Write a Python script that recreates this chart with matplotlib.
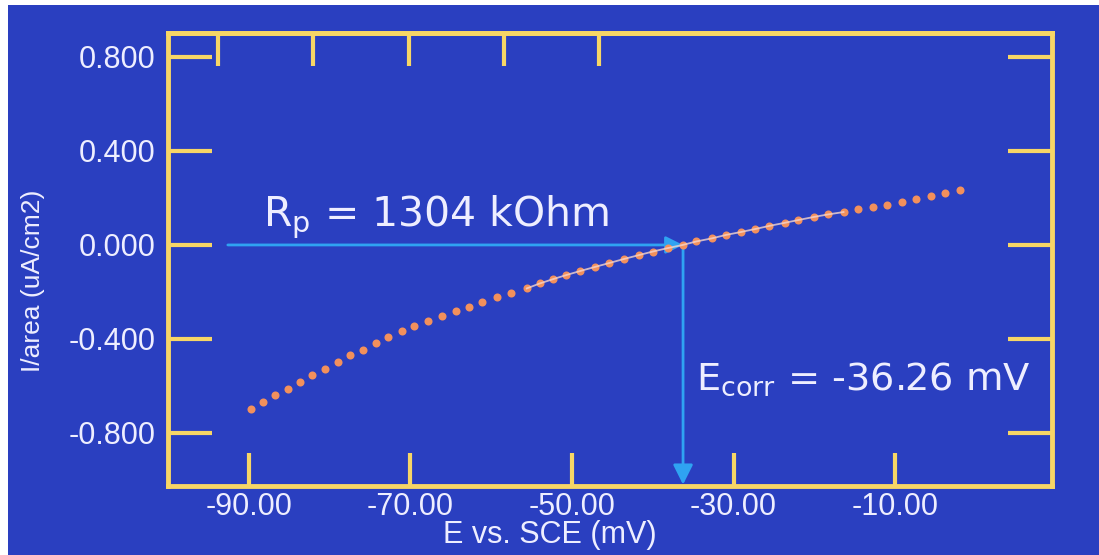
import numpy as np
import matplotlib
matplotlib.use("Agg")
import matplotlib.pyplot as plt
from matplotlib.patches import Rectangle

plt.rcParams["font.family"] = ["Liberation Sans", "DejaVu Sans"]
plt.rcParams["mathtext.fontset"] = "custom"
plt.rcParams["mathtext.rm"] = "Liberation Sans"

# -----------------------------
# data
# -----------------------------
e_mv = [-89.7, -88.3, -86.8, -85.2, -83.7, -82.2, -80.6, -79.0, -77.5, -75.9,
        -74.3, -72.8, -71.1, -69.6, -67.8, -66.1, -64.4, -62.8, -61.1, -59.3,
        -57.5, -55.6, -54.0, -52.3, -50.7, -49.0, -47.2, -45.4, -43.6, -41.7,
        -40.0, -38.1, -36.3, -34.6, -32.7, -30.9, -29.1, -27.3, -25.6, -23.7,
        -22.0, -20.1, -18.3, -16.4, -14.6, -12.8, -11.0, -9.2, -7.4, -5.6,
        -3.8, -2.0]
i_area = [-0.698, -0.668, -0.638, -0.611, -0.583, -0.553, -0.526, -0.498, -0.470, -0.445,
          -0.419, -0.391, -0.366, -0.345, -0.323, -0.304, -0.281, -0.262, -0.243, -0.223,
          -0.204, -0.185, -0.164, -0.145, -0.128, -0.111, -0.094, -0.077, -0.060, -0.043,
          -0.028, -0.013, 0.000, 0.015, 0.028, 0.043, 0.055, 0.068, 0.081, 0.094,
          0.106, 0.119, 0.130, 0.140, 0.151, 0.162, 0.172, 0.184, 0.196, 0.209,
          0.221, 0.234]

# linear fit region (indices into the data above)
fit_start, fit_end = 21, 44

e_corr = -36.26
rp_text = r"R$_\mathregular{p}$ = 1304 kOhm"
ecorr_text = r"E$_\mathregular{corr}$ = -36.26 mV"

x_ticks = [-90, -70, -50, -30, -10]
x_ticklabels = ["-90.00", "-70.00", "-50.00", "-30.00", "-10.00"]
y_ticks = [0.8, 0.4, 0.0, -0.4, -0.8]
y_ticklabels = ["0.800", "0.400", "0.000", "-0.400", "-0.800"]
top_ticks = [-93.8, -82.0, -70.2, -58.4, -46.6]

# -----------------------------
# colours
# -----------------------------
bg = "#2a3fc0"
frame = "#f7d666"
txt = "#eeeeff"
dots = "#f2905c"
arrow_c = "#2fa3f2"

fig = plt.figure(figsize=(10.99, 5.55), dpi=100)
fig.patch.set_facecolor(bg)
fig.add_artist(Rectangle((0, 0), 8 / 1099, 1, transform=fig.transFigure,
                         facecolor="white", edgecolor="none"))
fig.add_artist(Rectangle((0, 1 - 5 / 555), 1, 5 / 555, transform=fig.transFigure,
                         facecolor="white", edgecolor="none"))

ax = fig.add_axes([0.1529, 0.1243, 0.8043, 0.8162])
ax.set_facecolor(bg)
ax.set_xlim(-100, 9.4)
ax.set_ylim(-1.026, 0.902)

for sp in ax.spines.values():
    sp.set_color(frame)
    sp.set_linewidth(3.5)

ax.set_xticks(x_ticks)
ax.set_xticklabels(x_ticklabels)
ax.set_yticks(y_ticks)
ax.set_yticklabels(y_ticklabels)
ax.tick_params(axis="y", which="major", direction="in", length=32, width=3,
               color=frame, labelcolor=txt, labelsize=22, pad=9,
               left=True, right=True)
ax.tick_params(axis="x", which="major", direction="in", length=24, width=3,
               color=frame, labelcolor=txt, labelsize=22, pad=4,
               bottom=True, top=False)

top = ax.secondary_xaxis("top")
top.set_xticks(top_ticks)
top.tick_params(direction="in", length=24, width=3, color=frame, labeltop=False)
top.spines["top"].set_color(frame)
top.spines["top"].set_linewidth(3.5)

ax.set_xlabel("E vs. SCE (mV)", color=txt, fontsize=22, labelpad=2)
ax.xaxis.set_label_coords(0.432, -0.075)
ax.set_ylabel("I/area (uA/cm2)", color=txt, fontsize=19)
ax.yaxis.set_label_coords(-0.139, 0.4525)

# dotted curve + fit line
ax.plot(e_mv, i_area, linestyle="none", marker="o", markersize=5.8,
        color=dots, markeredgewidth=0, zorder=3)
ax.plot(e_mv[fit_start:fit_end], i_area[fit_start:fit_end], color="#f7d6cc",
        lw=1.3, alpha=0.8, zorder=4)

# arrows
ax.annotate("", xy=(e_corr, 0), xytext=(-92.6, 0),
            arrowprops=dict(arrowstyle="-|>", color=arrow_c, lw=2,
                            mutation_scale=26, shrinkA=0, shrinkB=0), zorder=2)
ax.annotate("", xy=(e_corr, -1.02), xytext=(e_corr, 0),
            arrowprops=dict(arrowstyle="-|>", color=arrow_c, lw=2,
                            mutation_scale=30, shrinkA=0, shrinkB=0), zorder=2)

ax.text(-88.3, 0.081, rp_text, color=txt, fontsize=29.5, va="baseline", ha="left",
        family="DejaVu Sans")
ax.text(-34.6, -0.617, ecorr_text, color=txt, fontsize=27.6, va="baseline", ha="left",
        family="DejaVu Sans")

fig.savefig("out.png", dpi=100, facecolor=fig.get_facecolor())
